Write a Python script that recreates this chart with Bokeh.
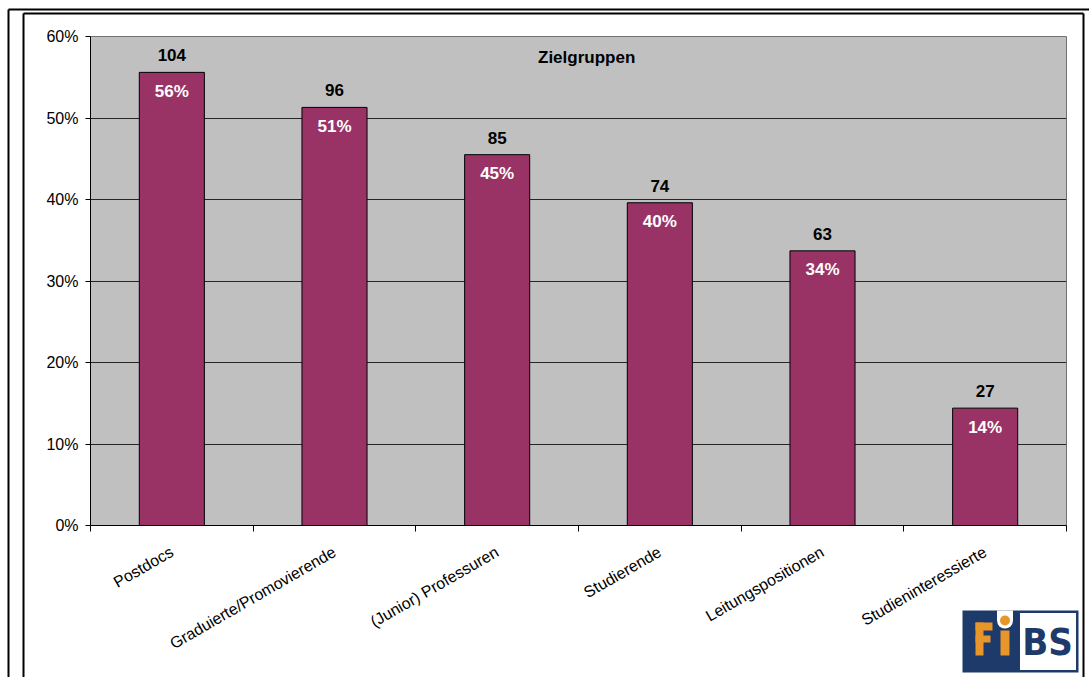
import math
from bokeh.plotting import figure
from bokeh.models import (Range1d, FixedTicker, PrintfTickFormatter, CustomJSTickFormatter,
                          Label, ColumnDataSource)
from bokeh.core.properties import value
from bokeh.embed import file_html
from bokeh.resources import INLINE

# ---------------- data ----------------
categories = ["Postdocs", "Graduierte/Promovierende", "(Junior) Professuren",
              "Studierende", "Leitungspositionen", "Studieninteressierte"]
counts = [104, 96, 85, 74, 63, 27]
shares = [55.6, 51.3, 45.5, 39.6, 33.7, 14.4]          # percent of respondents
share_labels = ["56%", "51%", "45%", "40%", "34%", "14%"]
y_ticks = [0, 10, 20, 30, 40, 50, 60]
grid_ticks = [10, 20, 30, 40, 50]
chart_title = "Zielgruppen"

# ---------------- style ----------------
FONT = "Liberation Sans"
BAR = "#993366"
BG = "#C0C0C0"
NAVY = "#1E3A6A"
ORANGE = "#E8952A"
W, H = 1089, 677
ML, MR, MT, MB = 90, 23, 36, 152

n = len(categories)
xs = [i + 0.5 for i in range(n)]
src = ColumnDataSource(dict(x=xs, top=shares, n=[str(c) for c in counts], lab=share_labels))

p = figure(width=W, height=H, x_range=Range1d(0, n), y_range=Range1d(0, y_ticks[-1]),
           output_backend="svg", toolbar_location=None, tools="")
p.min_border_left = ML
p.min_border_right = MR
p.min_border_top = MT
p.min_border_bottom = MB
p.background_fill_color = BG
p.border_fill_color = "white"
p.outline_line_color = "#707070"
p.outline_line_width = 1

p.vbar(x="x", top="top", width=0.4, bottom=0, source=src,
       fill_color=BAR, line_color="black", line_width=1)
p.text(x="x", y="top", text="n", source=src, text_font=value(FONT), text_font_style="bold",
       text_font_size="17px", text_color="black", text_align="center",
       text_baseline="middle", y_offset=-17)
p.text(x="x", y="top", text="lab", source=src, text_font=value(FONT), text_font_style="bold",
       text_font_size="17px", text_color="white", text_align="center",
       text_baseline="middle", y_offset=19)
p.add_layout(Label(x=n / 2 + 0.05, y=57.4, text=chart_title, text_font=FONT,
                   text_font_style="bold", text_font_size="17px", text_color="black",
                   text_align="center", text_baseline="middle"))

ya = p.yaxis[0]
ya.ticker = FixedTicker(ticks=y_ticks)
ya.formatter = PrintfTickFormatter(format="%d%%")
ya.axis_line_color = "black"
ya.major_tick_line_color = "black"
ya.major_tick_out = 5
ya.major_tick_in = 0
ya.minor_tick_line_color = None
ya.major_label_text_font = FONT
ya.major_label_text_font_size = "16px"
ya.major_label_text_color = "black"
ya.major_label_standoff = 7

xa = p.xaxis[0]
xa.ticker = FixedTicker(ticks=xs, minor_ticks=list(range(n + 1)))
xa.formatter = CustomJSTickFormatter(args=dict(names=categories),
                                     code="const i = Math.round(tick - 0.5); return names[i] || '';")
xa.axis_line_color = "black"
xa.major_tick_out = 0
xa.major_tick_in = 0
xa.minor_tick_line_color = "black"
xa.minor_tick_out = 6
xa.minor_tick_in = 0
xa.major_label_orientation = math.pi / 6
xa.major_label_text_font = FONT
xa.major_label_text_font_size = "16px"
xa.major_label_text_color = "black"
xa.major_label_standoff = 19

p.xgrid.visible = False
p.ygrid.ticker = FixedTicker(ticks=grid_ticks)
p.ygrid.grid_line_color = "#262626"
p.ygrid.grid_line_width = 1

# ---------------- transparent overlay (page frames + FiBS logo), pixel space ----------------
o = figure(width=W, height=H, x_range=Range1d(0, W), y_range=Range1d(H, 0),
           output_backend="svg", toolbar_location=None, tools="",
           x_axis_location=None, y_axis_location=None, margin=(-H, 0, 0, 0))
o.min_border = 0
o.min_border_left = o.min_border_right = o.min_border_top = o.min_border_bottom = 0
o.background_fill_color = None
o.border_fill_color = None
o.outline_line_color = None
o.grid.visible = False

# page frames (outer and inner double line)
o.segment(x0=[8, 8], y0=[9, 9], x1=[W + 5, 8], y1=[9, H + 5], line_color="black", line_width=2)
o.segment(x0=[23, 23, 1083], y0=[13, 13, 13], x1=[1083, 23, 1083], y1=[13, H + 5, H + 5],
          line_color="black", line_width=2)

# logo
o.quad(left=[962], right=[1078], top=[610], bottom=[672], fill_color=NAVY, line_color=None)
o.quad(left=[1019], right=[1076], top=[612], bottom=[670], fill_color="white",
       line_color=NAVY, line_width=1)
# "F"
o.quad(left=[975, 975, 975], right=[983, 992, 990], top=[622, 622, 635], bottom=[655, 630, 642],
       fill_color=ORANGE, line_color=None)
# "i"
o.quad(left=[1000], right=[1009], top=[630], bottom=[655], fill_color=ORANGE, line_color=None)
o.quad(left=[996.5], right=[1012.5], top=[610], bottom=[620], fill_color="white", line_color=None)
o.circle(x=[1004.5], y=[620], radius=8, fill_color="white", line_color=None)
o.circle(x=[1004.5], y=[620], radius=5, fill_color=ORANGE, line_color=None)
o.text(x=[1047], y=[641], text=["BS"],
       text_font=value("Liberation Sans Narrow, DejaVu Sans Condensed, Liberation Sans, sans-serif"),
       text_font_style="bold", text_font_size="38px", text_color=NAVY,
       text_align="center", text_baseline="middle")

open("out.html", "w").write(file_html([p, o], INLINE))
